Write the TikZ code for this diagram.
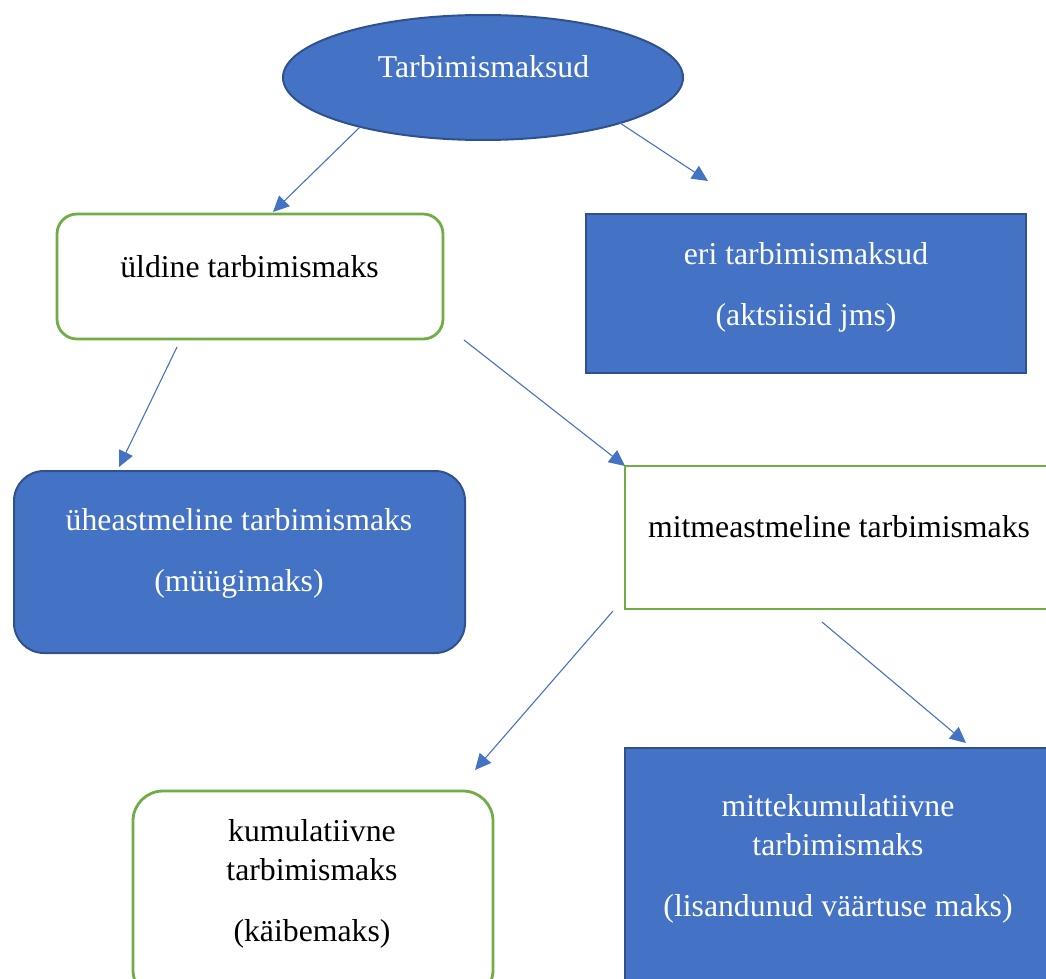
\documentclass[tikz,border=0pt]{standalone}
\usepackage{fontspec}
\setmainfont{Liberation Serif}
\usetikzlibrary{arrows.meta,shapes.geometric}
\definecolor{fillblue}{HTML}{4472C4}
\definecolor{edgeblue}{HTML}{2F528F}
\definecolor{edgegreen}{HTML}{70AD47}
\begin{document}
\begin{tikzpicture}[x=1pt,y=-1pt,
  bluebox/.style={draw=edgeblue,fill=fillblue,line width=2pt,inner sep=0pt},
  greenbox/.style={draw=edgegreen,fill=white,line width=2.8pt,inner sep=0pt},
  boxtext/.style={anchor=base,align=center,inner sep=0pt,
    font=\fontsize{31.75}{39}\selectfont},
  wtext/.style={boxtext,text=white},
  btext/.style={boxtext,text=black},
  conn/.style={draw=fillblue,line width=1.1pt,-{Triangle[length=16pt,width=15pt]}}]
\useasboundingbox (0,0) rectangle (1046,979);
\clip (0,0) rectangle (1046,979);
% shapes
\node[bluebox,ellipse,minimum width=400pt,minimum height=125pt] (ell) at (483,77.5) {};
\node[greenbox,rounded corners=20pt,minimum width=386pt,minimum height=125pt] (ud) at (250,276.5) {};
\node[bluebox,minimum width=440pt,minimum height=159pt] (eri) at (806,293.5) {};
\node[bluebox,rounded corners=30pt,minimum width=451pt,minimum height=182pt] (uh) at (239.5,562) {};
\node[greenbox,minimum width=428pt,minimum height=143pt] (mit) at (839,537.5) {};
\node[greenbox,rounded corners=30pt,minimum width=360pt,minimum height=209pt] (kum) at (313,895.5) {};
\node[bluebox,minimum width=426pt,minimum height=252pt] (mk) at (838,874) {};
% texts (anchor = baseline of the last line)
\node[wtext] (tell) at (483.5,78) {Tarbimismaksud};
\node[btext] (tud) at (249.5,277) {üldine tarbimismaks};
\node[wtext] (teri) at (806,325) {eri tarbimismaksud\\[22pt](aktsiisid jms)};
\node[wtext] (tuh) at (239,591) {üheastmeline tarbimismaks\\[22pt](müügimaks)};
\node[btext] (tmit) at (839,537) {mitmeastmeline tarbimismaks};
\node[btext] (tkum) at (312,941) {kumulatiivne\\tarbimismaks\\[22pt](käibemaks)};
\node[wtext] (tmk) at (838,916) {mittekumulatiivne\\tarbimismaks\\[22pt](lisandunud väärtuse maks)};
% connector end points
\coordinate (a1s) at (360,127);
\coordinate (a1e) at (273,212);
\coordinate (a2s) at (620,123);
\coordinate (a2e) at (708,181);
\coordinate (a3s) at (177,347);
\coordinate (a3e) at (119,467);
\coordinate (a4s) at (464,340);
\coordinate (a4e) at (625,466);
\coordinate (a5s) at (613,611);
\coordinate (a5e) at (475,770);
\coordinate (a6s) at (822,622);
\coordinate (a6e) at (966,743);
% connectors
\draw[conn] (a1s) -- (a1e);
\draw[conn] (a2s) -- (a2e);
\draw[conn] (a3s) -- (a3e);
\draw[conn] (a4s) -- (a4e);
\draw[conn] (a5s) -- (a5e);
\draw[conn] (a6s) -- (a6e);
\end{tikzpicture}
\end{document}
